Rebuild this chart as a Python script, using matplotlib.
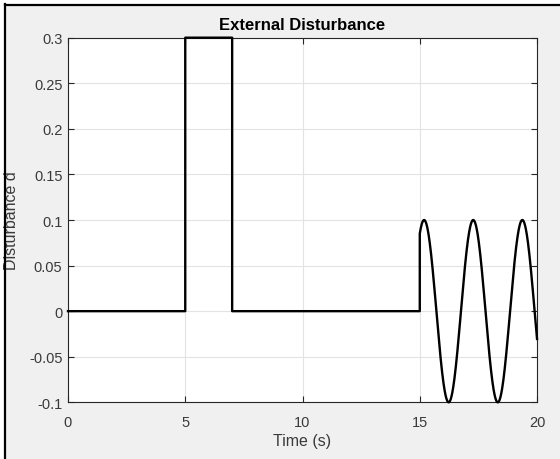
import numpy as np
import matplotlib
matplotlib.use("Agg")
import matplotlib.pyplot as plt
from matplotlib.lines import Line2D

plt.rcParams['font.family'] = ['Liberation Sans', 'DejaVu Sans']

# signal
# rectangular pulse, then a sine that starts at t = 15 s
step_times = [0, 5, 5, 7, 7, 15]
step_values = [0, 0, 0.3, 0.3, 0, 0]
sine_start = 15
sine_end = 20
sine_amp = 0.1      # peaks at +/-0.1
sine_omega = 3.0    # rad/s, peaks near 15.2, 17.3, 19.4 s

x_ticks = [0, 5, 10, 15, 20]
y_ticks = [-0.1, -0.05, 0, 0.05, 0.1, 0.15, 0.2, 0.25, 0.3]
y_tick_labels = ['-0.1', '-0.05', '0', '0.05', '0.1', '0.15', '0.2', '0.25', '0.3']

t_sine = np.linspace(sine_start, sine_end, 600)
d_sine = sine_amp * np.sin(sine_omega * t_sine)
t = np.concatenate([step_times, t_sine])
d = np.concatenate([step_values, d_sine])

fig = plt.figure(figsize=(5.6, 4.6), dpi=100, facecolor='#f0f0f0')
ax = fig.add_axes([0.1214, 0.1232, 0.8376, 0.7927])
ax.set_facecolor('white')

ax.plot(t, d, color='black', lw=1.7, clip_on=False, zorder=3)

ax.set_xlim(0, 20)
ax.set_ylim(-0.1, 0.3)
ax.set_xticks(x_ticks)
ax.set_yticks(y_ticks)
ax.set_yticklabels(y_tick_labels)
ax.grid(True, color='#e3e3e3', lw=0.8)
ax.set_axisbelow(True)

axis_col = '#262626'
label_col = '#3a3a3a'
for s in ax.spines.values():
    s.set_color(axis_col)
    s.set_linewidth(0.8)
ax.tick_params(direction='in', length=4, width=0.8, color=axis_col,
               labelcolor=label_col, labelsize=10.5, top=True, right=True)
ax.tick_params(axis='x', pad=9)
ax.tick_params(axis='y', pad=4)

ax.set_title('External Disturbance', fontsize=12, fontweight='bold', pad=6)
ax.set_xlabel('Time (s)', fontsize=11.5, color=label_col, labelpad=3)
ax.set_ylabel('Disturbance d', fontsize=11.5, color=label_col)
ax.yaxis.set_label_coords(-0.104, 0.5)

# black frame lines at top and left of the screenshot
fig.add_artist(Line2D([4.5 / 560, 4.5 / 560], [0, 1 - 5 / 460], color='black', lw=1.6,
                      transform=fig.transFigure))
fig.add_artist(Line2D([4.5 / 560, 1], [1 - 5.5 / 460, 1 - 5.5 / 460], color='black', lw=1.6,
                      transform=fig.transFigure))
fig.patches.append(plt.Rectangle((0, 1 - 5 / 460), 1, 5 / 460, transform=fig.transFigure,
                                 color='white', zorder=-1))
fig.patches.append(plt.Rectangle((0, 0), 4 / 560, 1, transform=fig.transFigure,
                                 color='white', zorder=-1))

fig.savefig('out.png', dpi=100, facecolor=fig.get_facecolor())
